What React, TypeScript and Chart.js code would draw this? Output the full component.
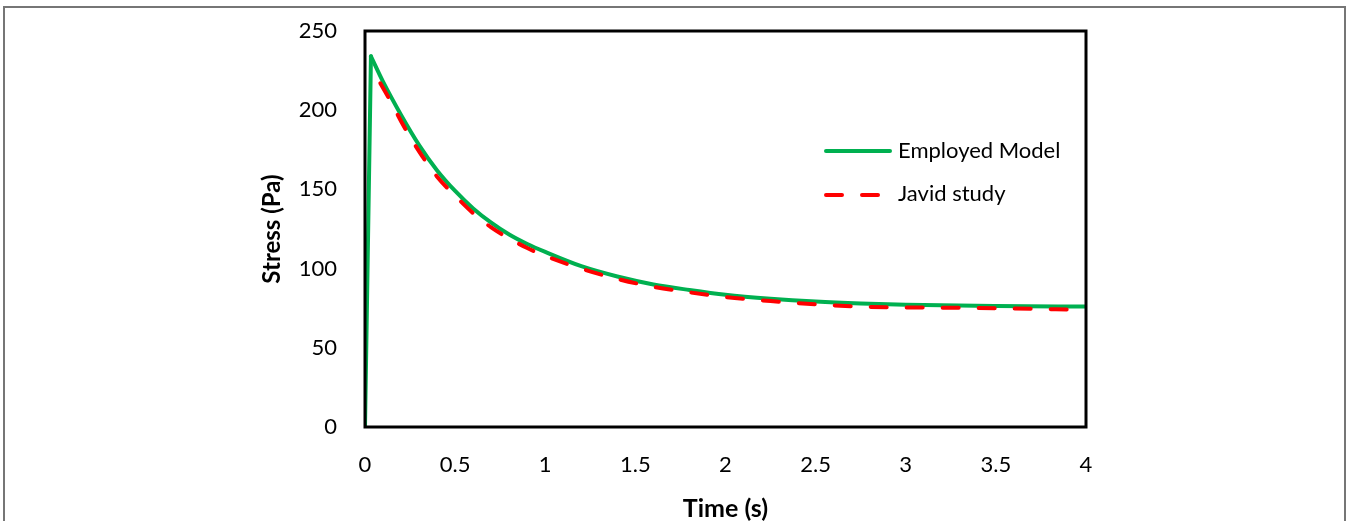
import React, { useEffect, useRef } from "react";
import { Chart, registerables } from "chart.js";

Chart.register(...registerables);

const modelTime = [0, 0.033, 0.1, 0.2, 0.3, 0.4, 0.5, 0.6, 0.7, 0.8, 0.9, 1.0, 1.2, 1.4, 1.6, 1.8, 2.0, 2.25, 2.5, 2.75, 3.0, 3.5, 4.0];
const modelStress = [0, 234, 218, 197, 178, 162, 149, 138, 129, 121.5, 115.5, 110.5, 101.5, 95, 90, 86.5, 83.5, 81, 79.2, 78, 77.2, 76.4, 76];

const javidTime = [0.085, 0.15, 0.2, 0.3, 0.4, 0.5, 0.6, 0.7, 0.8, 0.9, 1.0, 1.2, 1.4, 1.6, 1.8, 2.0, 2.25, 2.5, 2.75, 3.0, 3.5, 4.0];
const javidStress = [217, 204, 193, 174, 158, 146, 135, 126, 119, 113, 108, 100, 93.5, 88.5, 85, 82, 79.5, 77.5, 76, 75.5, 75, 74];

const xTicks = [0, 0.5, 1, 1.5, 2, 2.5, 3, 3.5, 4];
const yTicks = [0, 50, 100, 150, 200, 250];

const seriesNames = ["Employed Model", "Javid study"];
const FONT = "Lato, 'Open Sans', sans-serif";

export default function App() {
  const ref = useRef<HTMLCanvasElement | null>(null);
  useEffect(() => {
    if (!ref.current) return;
    const framePlugin = {
      id: "frame",
      afterDatasetsDraw(chart: any) {
        const { ctx, chartArea: a } = chart;
        ctx.save();
        ctx.strokeStyle = "#000";
        ctx.lineWidth = 3;
        ctx.strokeRect(a.left, a.top, a.right - a.left, a.bottom - a.top);
        // legend
        ctx.lineCap = "round";
        ctx.lineWidth = 4;
        ctx.strokeStyle = "#00B050";
        ctx.beginPath();
        ctx.moveTo(826, 151);
        ctx.lineTo(890, 151);
        ctx.stroke();
        ctx.strokeStyle = "#FF0000";
        ctx.setLineDash([16, 20]);
        ctx.beginPath();
        ctx.moveTo(826, 195);
        ctx.lineTo(880, 195);
        ctx.stroke();
        ctx.setLineDash([]);
        ctx.fillStyle = "#000";
        ctx.font = `22px ${FONT}`;
        ctx.textBaseline = "middle";
        ctx.textAlign = "left";
        ctx.fillText(seriesNames[0], 898, 151);
        ctx.fillText(seriesNames[1], 898, 194);
        ctx.restore();
      },
    };
    const rise = 2;
    const chart = new Chart(ref.current, {
      type: "line",
      data: {
        datasets: [
          {
            label: seriesNames[0] + " rise",
            data: modelTime.slice(0, rise).map((t, i) => ({ x: t, y: modelStress[i] })),
            borderColor: "#00B050",
            borderWidth: 4,
            pointRadius: 0,
            tension: 0,
            borderCapStyle: "round",
            order: 3,
          },
          {
            label: seriesNames[0],
            data: modelTime.slice(rise - 1).map((t, i) => ({ x: t, y: modelStress[i + rise - 1] })),
            borderColor: "#00B050",
            borderWidth: 4,
            pointRadius: 0,
            cubicInterpolationMode: "monotone",
            borderCapStyle: "round",
            borderJoinStyle: "round",
            order: 2,
          },
          {
            label: seriesNames[1],
            data: javidTime.map((t, i) => ({ x: t, y: javidStress[i] })),
            borderColor: "#FF0000",
            borderWidth: 4,
            borderDash: [16, 20],
            borderCapStyle: "round",
            pointRadius: 0,
            cubicInterpolationMode: "monotone",
            order: 1,
          },
        ],
      },
      options: {
        animation: false,
        responsive: false,
        layout: { padding: { left: 250, top: 31, right: 265, bottom: 0 } },
        plugins: { legend: { display: false }, tooltip: { enabled: false } },
        scales: {
          x: {
            type: "linear",
            min: 0,
            max: 4,
            afterBuildTicks: (s: any) => {
              s.ticks = xTicks.map((v) => ({ value: v }));
            },
            afterFit: (s: any) => {
              s.height = 94;
              s.paddingLeft = 0;
              s.paddingRight = 0;
            },
            grid: { display: false, drawTicks: false },
            border: { display: false },
            ticks: {
              padding: 25,
              color: "#000",
              font: { family: FONT, size: 22 },
              maxRotation: 0,
              callback: (v: any) => String(v),
            },
            title: {
              display: true,
              text: "Time (s)",
              color: "#000",
              font: { family: FONT, size: 25, weight: "bold" },
              padding: { top: 0, bottom: -3 },
            },
          },
          y: {
            min: 0,
            max: 250,
            afterBuildTicks: (s: any) => {
              s.ticks = yTicks.map((v) => ({ value: v }));
            },
            afterFit: (s: any) => {
              s.width = 115;
              s.paddingTop = 0;
              s.paddingBottom = 0;
            },
            grid: { display: false, drawTicks: false },
            border: { display: false },
            ticks: {
              padding: 28,
              color: "#000",
              font: { family: FONT, size: 22 },
              callback: (v: any) => String(v),
            },
            title: {
              display: true,
              text: "Stress (Pa)",
              color: "#000",
              font: { family: FONT, size: 24, weight: "bold" },
              padding: { top: 8, bottom: 0 },
            },
          },
        },
      },
      plugins: [framePlugin],
    } as any);
    return () => chart.destroy();
  }, []);
  return (
    <div style={{ position: "fixed", left: 0, top: 0, width: 1351, height: 521, background: "#fff" }}>
      <div
        style={{
          position: "absolute",
          left: 3,
          top: 6,
          width: 1343,
          height: 530,
          borderTop: "2px solid #767676",
          borderLeft: "2px solid #767676",
          borderRight: "2px solid #767676",
          boxSizing: "border-box",
        }}
      />
      <canvas ref={ref} width={1351} height={521} style={{ position: "absolute", left: 0, top: 0 }} />
    </div>
  );
}
